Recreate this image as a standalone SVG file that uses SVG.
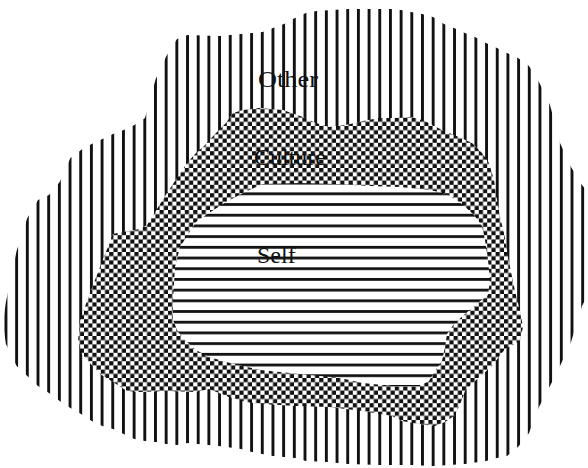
<svg xmlns="http://www.w3.org/2000/svg" width="588" height="468" viewBox="0 0 588 468">
<defs>
<pattern id="vlines" patternUnits="userSpaceOnUse" x="4.5" y="0" width="10.68" height="10">
<rect x="0" y="0" width="10.68" height="10" fill="#fff"/>
<rect x="0" y="0" width="2.9" height="10" fill="#111"/>
</pattern>
<pattern id="hlines" patternUnits="userSpaceOnUse" x="0" y="192.4" width="10" height="10.7">
<rect x="0" y="0" width="10" height="10.7" fill="#fff"/>
<rect x="0" y="0" width="10" height="2.8" fill="#111"/>
</pattern>
<pattern id="checker" patternUnits="userSpaceOnUse" x="0" y="0" width="8.4" height="8.4">
<rect x="0" y="0" width="8.4" height="8.4" fill="#fff"/>
<rect x="0" y="0" width="4.2" height="4.2" fill="#111"/>
<rect x="4.2" y="4.2" width="4.2" height="4.2" fill="#111"/>
</pattern>
</defs>
<style>
.lbl{font-family:"Liberation Serif","Times New Roman",serif;font-size:24px;fill:#111}
</style>
<rect width="588" height="468" fill="#fff"/>
<g id="other">
<path fill="url(#vlines)" d="M3,323 L5.9,302 L16.6,251 L27.3,218 L38,200 L49,195 L59.7,182 L70.4,158 L81,150 L91.7,144 L102.4,139 L113,134 L123.7,130 L134.4,125 L145,118 L155.7,79 L166.4,56 L177,39 L187.7,35 L219,36 L252,33 L262.7,32 L273,28 L284,24 L295,18 L306,13 L316.7,11 L348,9 L391,9 L401,10 L411,12 L422,14 L433,17 L444,24 L454,28 L465,33 L475,37 L486,43 L497,48 L507,53 L518,58 L529,66 L539,82 L550,105 L560,143 L571,167 L582,185 L590,195 L590,290 L582,306 L571,342 L560,366 L550,386 L539,407 L529,433 L518,447 L507,456 L497,458 L486,461 L465,464 L433,466 L411,465 L380,465 L348,464 L327,462 L306,461 L295,458 L273,456 L252,452 L241,449 L219,446 L197.7,444 L187.7,443 L177,445 L166.4,444 L155.7,442 L145,441 L134.4,439 L123.7,434 L113,429 L102.4,426 L91.7,421 L81,414 L70.4,408 L59.7,401 L49,393 L38,386 L27.3,376 L16.6,366 L5.9,344 Z"/>
<text class="lbl" x="258" y="87" textLength="60" lengthAdjust="spacingAndGlyphs">Other</text>
</g>
<g id="culture">
<path fill="url(#checker)" d="M113,234 L122,232 L140,229 L147,225 L167,193 L187,163 L196,153 L203,147 L216,133 L226,123 L233,113 L243,110 L259,108 L283,110 L303,117 L316,123 L329,127 L346,125 L363,121 L379,118 L392,118 L412,117 L425,121 L442,130 L459,137 L472,143 L482,153 L489,163 L494,180 L497,200 L500,217 L504,233 L507,251 L510,267 L515,291 L520,311 L523,327 L520,341 L505,349 L492,366 L475,381 L465,391 L459,407 L454,416 L445,422 L435,426 L419,424 L402,421 L392,416 L363,411 L329,407 L296,406 L263,404 L246,402 L229,397 L209,389 L196,392 L167,391 L140,392 L127,391 L113,382 L100,374 L88,361 L82,354 L78,341 L80,321 L87,301 L100,267 Z"/>
<text class="lbl" x="254" y="165">Culture</text>
</g>
<g id="self">
<path fill="url(#hlines)" d="M263,184 L300,183 L336,184 L370,186 L400,187 L430,190 L447,194 L462,204 L474,215 L482,226 L485,240 L488,260 L490,280 L488,295 L479,302 L465,314 L454,324 L447,334 L445,347 L442,361 L435,371 L429,381 L419,386 L392,386 L363,383 L340,378 L300,374 L260,370 L230,363 L209,357 L196,350 L185,340 L178,332 L173,320 L173,300 L175,267 L180,247 L196,222 L209,213 L226,202 L245,192 Z"/>
<text class="lbl" x="257" y="263">Self</text>
</g>
</svg>
